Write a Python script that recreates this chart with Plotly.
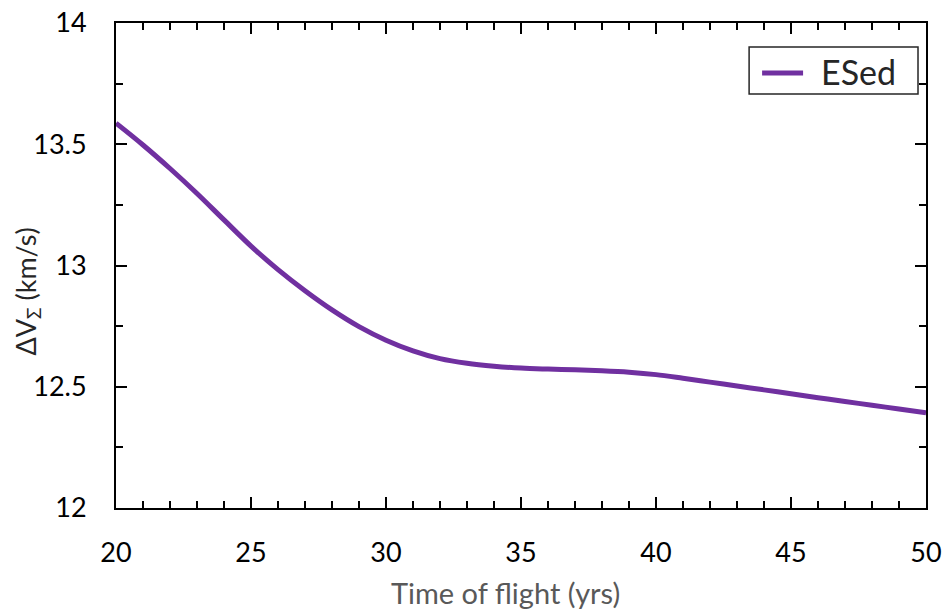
import plotly.graph_objects as go

years = list(range(20, 51))
esed = [13.587, 13.497, 13.400, 13.297, 13.188, 13.080, 12.983, 12.896, 12.817, 12.748,
        12.692, 12.648, 12.616, 12.597, 12.585, 12.577, 12.573, 12.570, 12.566, 12.560,
        12.550, 12.535, 12.519, 12.503, 12.487, 12.471, 12.455, 12.439, 12.424, 12.408,
        12.393]
series_name = "ESed"
x_ticks = [20, 25, 30, 35, 40, 45, 50]
y_ticks = [12, 12.5, 13, 13.5, 14]
y_ticklabels = ["12", "12.5", "13", "13.5", "14"]

FONT = "Lato"
COLOR = "#7030A0"
L, R, T, B = 115.5, 926, 23, 508


def px(x):
    return (x - L) / (R - L)


def py(y):
    return (B - y) / (B - T)


fig = go.Figure()
fig.add_trace(go.Scatter(x=years, y=esed, mode="lines", name=series_name, showlegend=False,
                         line=dict(color=COLOR, width=5, shape="spline", smoothing=1)))

axis_common = dict(showline=True, linecolor="black", linewidth=2, mirror="ticks",
                   ticks="inside", ticklen=11, tickwidth=1.5, tickcolor="black",
                   showgrid=False, zeroline=False, automargin=False,
                   tickfont=dict(family=FONT, size=27, color="black"))
fig.update_xaxes(range=[20, 50], tickvals=x_ticks, ticklabelstandoff=20,
                 minor=dict(dtick=1, ticks="inside", ticklen=7, tickwidth=1.5, tickcolor="black"),
                 **axis_common)
fig.update_yaxes(range=[12, 14], tickvals=y_ticks, ticktext=y_ticklabels, ticklabelstandoff=22,
                 minor=dict(dtick=0.25, ticks="inside", ticklen=7, tickwidth=1.5, tickcolor="black"),
                 **axis_common)

fig.add_annotation(text="Time of flight (yrs)", xref="paper", yref="paper",
                   x=px(505), y=py(592), xanchor="center", yanchor="middle",
                   showarrow=False, font=dict(family=FONT, size=29, color="#595959"))
fig.add_annotation(text="ΔV<sub>Σ</sub> (km/s)", xref="paper", yref="paper",
                   x=px(26), y=py(292), xanchor="center", yanchor="middle",
                   textangle=-90, showarrow=False, font=dict(family=FONT, size=27, color="#262626"))

# legend box (manual, to match reference layout)
fig.add_shape(type="rect", xref="paper", yref="paper", x0=px(749), x1=px(918), y0=py(94), y1=py(47),
              line=dict(color="#262626", width=1.5), fillcolor="white", layer="above")
fig.add_shape(type="line", xref="paper", yref="paper", x0=px(762), x1=px(803), y0=py(73), y1=py(73),
              line=dict(color=COLOR, width=5), layer="above")
fig.add_annotation(text=series_name, xref="paper", yref="paper", x=px(819), y=py(72),
                   xanchor="left", yanchor="middle", showarrow=False,
                   font=dict(family=FONT, size=34, color="#262626"))

fig.update_layout(
    width=945, height=612,
    margin=dict(l=L, r=945 - R, t=T, b=612 - B),
    plot_bgcolor="white", paper_bgcolor="white",
    showlegend=False,
)
fig.write_html("out.html")
